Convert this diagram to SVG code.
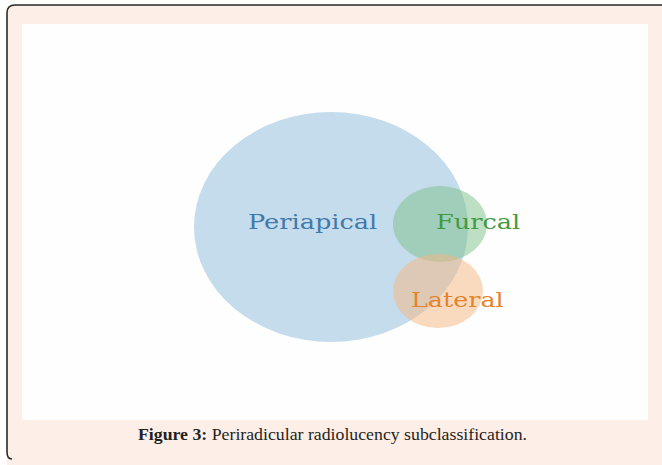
<svg xmlns="http://www.w3.org/2000/svg" width="662" height="465" viewBox="0 0 662 465">
  <style>
    .lbl { font-family: "DejaVu Serif", serif; font-size: 20px; }
    .cap { font-family: "Liberation Serif", "Times New Roman", serif; font-size: 17px; fill: #231f20; }
  </style>
  <rect x="0" y="0" width="662" height="465" fill="#ffffff"/>
  <path d="M7,13 Q7,5 15,5 L662,5 L662,465 L7,465 Z" fill="#fdeee8"/>
  <path d="M12,459 Q7,459 7,452 L7,13 Q7,5 15,5 L662,5" fill="none" stroke="#2a2a2a" stroke-width="1.6"/>
  <rect x="22" y="24" width="626" height="396" fill="#fefefe"/>

  <g id="periapical">
    <ellipse cx="331" cy="227" rx="137" ry="115" fill="#c5dcec"/>
  </g>
  <g id="furcal">
    <ellipse cx="440" cy="224" rx="47" ry="38" fill="#7cc08a" fill-opacity="0.5"/>
  </g>
  <g id="lateral">
    <ellipse cx="438" cy="291" rx="45" ry="37" fill="#f5b680" fill-opacity="0.5"/>
  </g>
  <g id="labels">
    <text class="lbl" transform="translate(248,229) scale(1.28,1)" fill="#4079aa">Periapical</text>
    <text class="lbl" transform="translate(436,229) scale(1.28,1)" fill="#439a43">Furcal</text>
    <text class="lbl" transform="translate(411,307) scale(1.27,1)" fill="#e4842f">Lateral</text>
  </g>
  <g id="connectors"/>

  <text class="cap" x="138" y="440" textLength="389" lengthAdjust="spacingAndGlyphs"><tspan font-weight="bold">Figure 3:</tspan> Periradicular radiolucency subclassification.</text>
</svg>
